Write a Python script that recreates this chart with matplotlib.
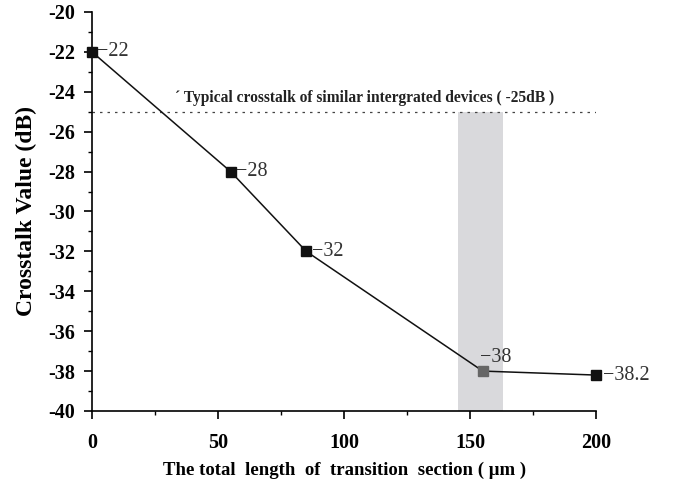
import matplotlib.pyplot as plt
from matplotlib.ticker import MultipleLocator

length = [0, 55, 85, 155, 200]
crosstalk = [-22, -28, -32, -38, -38.2]
point_labels = ["\u221222", "\u221228", "\u221232", "\u221238", "\u221238.2"]
marker_colors = ["#111111", "#111111", "#111111", "#666666", "#111111"]
typical_level = -25
band = (145, 163)

plt.rcParams['font.family'] = ['Liberation Serif', 'DejaVu Serif']
plt.rcParams['axes.unicode_minus'] = False

fig = plt.figure(figsize=(6.76, 4.79), dpi=100)
ax = fig.add_axes([0.136, 0.142, 0.746, 0.833])

ax.axvspan(band[0], band[1], ymin=0, ymax=(typical_level + 40) / 20,
           color="#d9d9dc", lw=0, zorder=0)
ax.plot([0, 200], [typical_level, typical_level], ls=(0, (2, 4)), color="#444444", lw=0.9)
ax.text(33, -24.5, "\u00b4 Typical crosstalk of similar intergrated devices ( -25dB )",
        fontsize=11.2, fontweight="bold", color="#222222")

ax.plot(length, crosstalk, color="#111111", lw=1.1, zorder=2)
for x, y, c in zip(length, crosstalk, marker_colors):
    ax.plot(x, y, marker="s", ms=6.5, color=c, zorder=3, clip_on=False)

offsets = [(4, 0), (4, 0), (4, 0), (-2, 10), (5, 0)]
for x, y, s, (dx, dy) in zip(length, crosstalk, point_labels, offsets):
    ax.annotate(s, (x, y), xytext=(dx, dy), textcoords="offset points",
                ha="left", va="center", fontsize=14.5, color="#333333")

ax.set_xlim(0, 200)
ax.set_ylim(-40, -20)
ax.xaxis.set_major_locator(MultipleLocator(50))
ax.xaxis.set_minor_locator(MultipleLocator(25))
ax.yaxis.set_major_locator(MultipleLocator(2))
ax.yaxis.set_minor_locator(MultipleLocator(1))
ax.tick_params(which="major", direction="out", length=6, width=1.2, labelsize=14.5)
ax.tick_params(axis="x", which="major", pad=10)
ax.tick_params(axis="y", which="major", pad=6)
ax.tick_params(which="minor", direction="out", length=3, width=1.0)
for lbl in ax.get_xticklabels() + ax.get_yticklabels():
    lbl.set_fontweight("bold")

for side in ["top", "right"]:
    ax.spines[side].set_visible(False)
for side in ["left", "bottom"]:
    ax.spines[side].set_linewidth(1.2)

ax.set_xlabel("The total  length  of  transition  section ( \u03bcm )", fontsize=13.5,
              fontweight="bold", labelpad=6)
ax.set_ylabel("Crosstalk Value (dB)", fontsize=17, fontweight="bold", labelpad=8)

fig.savefig("out.png", dpi=100)
